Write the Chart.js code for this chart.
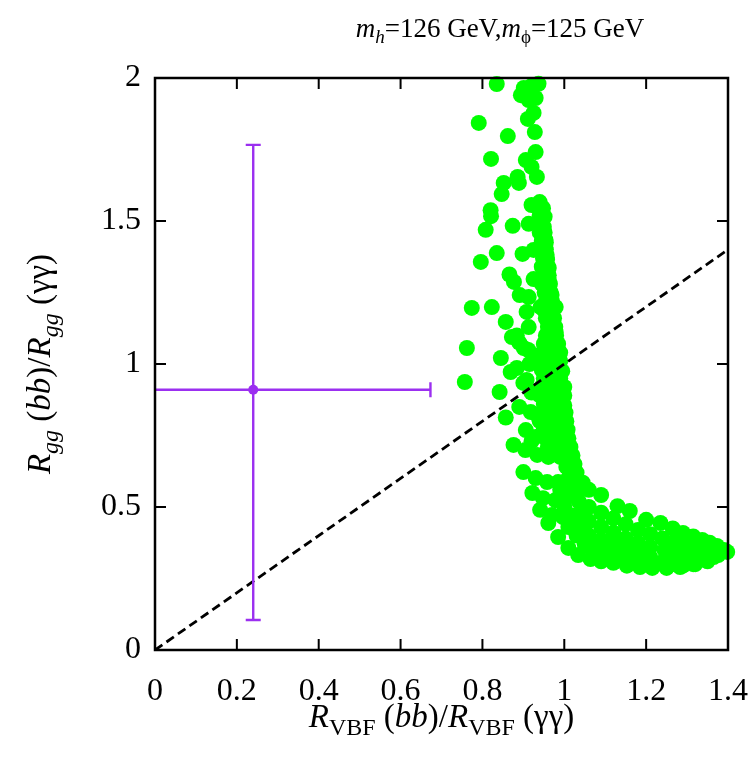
<!DOCTYPE html>
<html>
<head>
<meta charset="utf-8">
<script src="https://cdn.jsdelivr.net/npm/chart.js@4.4.1/dist/chart.umd.min.js"></script>
<style>
  html, body { margin: 0; padding: 0; background: #fff; }
  #wrap { width: 755px; height: 760px; }
</style>
</head>
<body>
<div id="wrap"><canvas id="c" width="755" height="760"></canvas></div>
<script>
// Axis ranges and tick labels
const xTicks = [0, 0.2, 0.4, 0.6, 0.8, 1.0, 1.2, 1.4];
const yTicks = [0, 0.5, 1.0, 1.5, 2.0];
const xRange = [0, 1.4];
const yRange = [0, 2];

// Reference line R_VBF ratio = R_gg ratio
const diagX = [0, 1.4];
const diagY = [0, 1.4];

// Measured point with its uncertainties
const measX = 0.24, measY = 0.91;
const measXLow = -0.19, measXHigh = 0.673;
const measYLow = 0.105, measYHigh = 1.766;

// Scan points (x = R_VBF(bb)/R_VBF(γγ), y = R_gg(bb)/R_gg(γγ))
const upperScan = [
  [0.835,1.979],[0.901,1.965],[0.920,1.972],[0.937,1.980],[0.894,1.940],[0.913,1.923],[0.930,1.930],
  [0.791,1.843],[0.862,1.797],[0.925,1.878],[0.911,1.857],[0.928,1.811],
  [0.821,1.717],[0.930,1.741],[0.906,1.713],[0.920,1.689],[0.933,1.654],[0.886,1.654],[0.889,1.633],
  [0.852,1.633],[0.847,1.594],[0.920,1.556],[0.940,1.566],[0.820,1.538],
  [0.821,1.517],[0.808,1.469],[0.874,1.483],[0.913,1.490],[0.942,1.528],[0.950,1.479],[0.954,1.434]
];
const midScan = [
  [0.835,1.388],[0.796,1.357],[0.898,1.385],[0.925,1.399],[0.957,1.381],[0.866,1.313],[0.877,1.287],
  [0.925,1.297],[0.962,1.336],[0.962,1.294],[0.891,1.241],[0.913,1.234],[0.969,1.241],[0.774,1.196],
  [0.823,1.199],[0.857,1.147],[0.908,1.182],[0.942,1.199],[0.979,1.199],[0.884,1.100],[0.913,1.129],
  [0.962,1.143],[0.979,1.112]
];
const columnScan = [
  [0.935,1.55],[0.948,1.545],[0.940,1.52],[0.952,1.515],[0.945,1.49],[0.940,1.46],[0.952,1.46],
  [0.945,1.43],[0.955,1.425],[0.940,1.40],[0.955,1.40],[0.948,1.37],[0.958,1.365],[0.945,1.34],
  [0.960,1.34],[0.950,1.31],[0.962,1.31],[0.945,1.28],[0.965,1.28],[0.952,1.25],[0.967,1.25],
  [0.955,1.22],[0.970,1.22],[0.950,1.19],[0.972,1.19],[0.955,1.16],[0.975,1.16],[0.960,1.13],
  [0.978,1.13],[0.955,1.10],[0.980,1.10],
  [0.950,1.07],[0.970,1.07],[0.985,1.07],[0.955,1.04],[0.975,1.04],[0.990,1.04],[0.950,1.01],
  [0.970,1.01],[0.990,1.01],[0.945,0.98],[0.965,0.98],[0.985,0.98],[0.995,0.975],[0.950,0.95],
  [0.970,0.95],[0.990,0.95],[0.945,0.92],[0.965,0.92],[0.985,0.92],[1.000,0.92],[0.940,0.89],
  [0.960,0.89],[0.980,0.89],[1.000,0.89],[0.950,0.86],[0.970,0.86],[0.990,0.86],[1.000,0.855],
  [0.945,0.83],[0.965,0.83],[0.985,0.83],[1.003,0.83],[0.940,0.80],[0.960,0.80],[0.980,0.80],
  [1.005,0.80],[0.950,0.77],[0.970,0.77],[0.990,0.77],[1.008,0.77],[0.955,0.74],[0.975,0.74],
  [0.995,0.74],[1.010,0.74],[0.960,0.71],[0.980,0.71],[1.000,0.71],[1.015,0.71],[1.020,0.68],
  [1.005,0.64],[1.025,0.65],[1.020,0.62],[1.030,0.62],[1.030,0.585],[0.990,0.56],[1.020,0.56],[1.040,0.565]
];
const strandScan = [
  [0.762,1.056],[0.757,0.937],[0.845,1.021],[0.842,0.902],[0.872,1.094],[0.901,1.056],[0.869,0.972],
  [0.884,0.986],[0.908,0.944],[0.937,1.031],[0.857,0.813],[0.906,0.769],[0.930,0.745],[0.918,0.832],
  [0.937,0.815],[0.912,1.049],[0.900,0.934],[0.890,1.075],[0.915,1.000],[0.920,0.900],[0.890,0.850],
  [0.920,0.730]
];
const lowerScan = [
  [0.876,0.717],[0.905,0.699],[0.934,0.682],[0.961,0.675],[0.990,0.675],[1.014,0.682],
  [0.900,0.622],[0.930,0.601],[0.958,0.587],[0.985,0.587],[1.010,0.601],
  [0.922,0.549],[0.948,0.531],[0.978,0.524],[1.002,0.531],
  [0.941,0.490],[0.970,0.472],[0.997,0.465],
  [0.961,0.444],[0.985,0.395],[1.010,0.357],[1.034,0.332],[1.064,0.318],[1.090,0.310],
  [1.000,0.500],[1.020,0.470],[1.010,0.430],[1.030,0.400],[1.035,0.520],[1.040,0.480],
  [1.045,0.440],[1.050,0.370],[1.030,0.550],[1.045,0.585],[1.060,0.560]
];
const tailScan = [
  [1.090,0.542],[1.130,0.503],[1.160,0.486],[1.200,0.455],[1.235,0.444],[1.265,0.425],[1.290,0.409],
  [1.315,0.397],[1.337,0.385],[1.355,0.375],[1.373,0.364],[1.390,0.350],
  [1.060,0.500],[1.090,0.480],[1.120,0.460],[1.150,0.440],[1.180,0.420],[1.210,0.405],[1.240,0.390],
  [1.270,0.380],[1.300,0.365],[1.330,0.355],[1.360,0.345],[1.398,0.343],
  [1.060,0.450],[1.090,0.430],[1.120,0.410],[1.150,0.390],[1.180,0.375],[1.210,0.360],[1.245,0.350],
  [1.275,0.340],[1.305,0.335],[1.335,0.330],[1.365,0.325],
  [1.060,0.400],[1.090,0.385],[1.120,0.370],[1.150,0.350],[1.180,0.335],[1.210,0.325],[1.245,0.315],
  [1.280,0.310],[1.310,0.310],[1.345,0.315],[1.376,0.332],
  [1.064,0.360],[1.090,0.345],[1.120,0.330],[1.150,0.315],[1.185,0.305],[1.220,0.300],[1.255,0.295],
  [1.290,0.295],[1.320,0.300],
  [1.120,0.305],[1.153,0.295],[1.185,0.290],[1.215,0.287],[1.250,0.287],[1.283,0.290],[1.315,0.300],
  [1.350,0.310]
];

const scanPoints = [...upperScan, ...midScan, ...columnScan, ...strandScan, ...lowerScan, ...tailScan]
  .map(([x, y]) => ({ x, y }));

const GREEN = '#00ff00';
const PURPLE = '#9b2ff0';
const SERIF = '"Liberation Serif", "DejaVu Serif", serif';

// Text with italic parts and subscripts
function drawRich(ctx, parts, x, y, size) {
  const fontFor = p => `${p.it ? 'italic ' : ''}${p.sub ? Math.round(size * 0.72) : size}px ${SERIF}`;
  let w = 0;
  parts.forEach(p => { ctx.font = fontFor(p); p.w = ctx.measureText(p.t).width; w += p.w; });
  let cx = x - w / 2;
  parts.forEach(p => {
    ctx.font = fontFor(p);
    ctx.fillText(p.t, cx, y + (p.sub ? size * 0.24 : 0));
    cx += p.w;
  });
}

const titleParts = [
  { t: 'm', it: 1 }, { t: 'h', it: 1, sub: 1 }, { t: '=126 GeV,' },
  { t: 'm', it: 1 }, { t: 'ϕ', sub: 1 }, { t: '=125 GeV' }
];
const xTitleParts = [
  { t: 'R', it: 1 }, { t: 'VBF', sub: 1 }, { t: ' (' }, { t: 'bb', it: 1 }, { t: ')/' },
  { t: 'R', it: 1 }, { t: 'VBF', sub: 1 }, { t: ' (γγ)' }
];
const yTitleParts = [
  { t: 'R', it: 1 }, { t: 'gg', it: 1, sub: 1 }, { t: ' (' }, { t: 'bb', it: 1 }, { t: ')/' },
  { t: 'R', it: 1 }, { t: 'gg', it: 1, sub: 1 }, { t: ' (γγ)' }
];

const decorPlugin = {
  id: 'decor',
  afterDatasetsDraw(chart) {
    const { ctx, chartArea: a, scales: { x, y } } = chart;

    // error bars of the measured point
    ctx.save();
    ctx.beginPath();
    ctx.rect(a.left, a.top, a.right - a.left, a.bottom - a.top);
    ctx.clip();
    ctx.strokeStyle = PURPLE;
    ctx.lineWidth = 2.4;
    const cx = x.getPixelForValue(measX), cy = y.getPixelForValue(measY);
    const xl = x.getPixelForValue(measXLow), xh = x.getPixelForValue(measXHigh);
    const yl = y.getPixelForValue(measYLow), yh = y.getPixelForValue(measYHigh);
    const cap = 7.5;
    ctx.beginPath();
    ctx.moveTo(xl, cy); ctx.lineTo(xh, cy);
    ctx.moveTo(xl, cy - cap); ctx.lineTo(xl, cy + cap);
    ctx.moveTo(xh, cy - cap); ctx.lineTo(xh, cy + cap);
    ctx.moveTo(cx, yl); ctx.lineTo(cx, yh);
    ctx.moveTo(cx - cap, yl); ctx.lineTo(cx + cap, yl);
    ctx.moveTo(cx - cap, yh); ctx.lineTo(cx + cap, yh);
    ctx.stroke();
    ctx.restore();

    // frame with inward ticks on all four sides
    ctx.save();
    ctx.strokeStyle = '#000';
    ctx.lineWidth = 2.5;
    ctx.strokeRect(a.left, a.top, a.right - a.left, a.bottom - a.top);
    ctx.lineWidth = 2;
    const L = 11;
    ctx.beginPath();
    x.ticks.forEach(t => {
      const px = x.getPixelForValue(t.value);
      ctx.moveTo(px, a.bottom); ctx.lineTo(px, a.bottom - L);
      ctx.moveTo(px, a.top); ctx.lineTo(px, a.top + L);
    });
    y.ticks.forEach(t => {
      const py = y.getPixelForValue(t.value);
      ctx.moveTo(a.left, py); ctx.lineTo(a.left + L, py);
      ctx.moveTo(a.right, py); ctx.lineTo(a.right - L, py);
    });
    ctx.stroke();
    ctx.restore();
  },
  afterDraw(chart) {
    const { ctx, chartArea: a } = chart;
    ctx.save();
    ctx.fillStyle = '#000';
    ctx.textBaseline = 'alphabetic';
    ctx.textAlign = 'left';
    drawRich(ctx, titleParts, 500, 37, 27);
    drawRich(ctx, xTitleParts, (a.left + a.right) / 2, 727, 33);
    ctx.translate(50, (a.top + a.bottom) / 2);
    ctx.rotate(-Math.PI / 2);
    drawRich(ctx, yTitleParts, 0, 0, 33);
    ctx.restore();
  }
};

const fmt = v => String(Math.round(v * 10) / 10);

new Chart(document.getElementById('c'), {
  type: 'scatter',
  data: {
    datasets: [
      {
        type: 'line',
        data: diagX.map((v, i) => ({ x: v, y: diagY[i] })),
        borderColor: '#000',
        borderWidth: 2.8,
        borderDash: [9, 5],
        pointRadius: 0,
        fill: false,
        order: 0
      },
      {
        data: [{ x: measX, y: measY }],
        backgroundColor: PURPLE,
        borderWidth: 0,
        pointRadius: 5,
        order: 1
      },
      {
        data: scanPoints,
        backgroundColor: GREEN,
        borderWidth: 0,
        pointRadius: 8,
        clip: false,
        order: 2
      }
    ]
  },
  options: {
    responsive: false,
    animation: false,
    devicePixelRatio: 1,
    layout: { padding: { top: 78, right: 27, left: 0, bottom: 0 } },
    plugins: { legend: { display: false }, tooltip: { enabled: false } },
    scales: {
      x: {
        type: 'linear',
        min: xRange[0], max: xRange[1],
        afterBuildTicks: s => { s.ticks = xTicks.map(v => ({ value: v })); },
        afterFit: s => { s.height = 110; s.paddingLeft = 0; s.paddingRight = 0; },
        grid: { display: false, drawTicks: false },
        border: { display: false },
        ticks: {
          callback: v => fmt(v),
          color: '#000',
          padding: 22,
          maxRotation: 0,
          autoSkip: false,
          font: { family: SERIF, size: 32 }
        }
      },
      y: {
        type: 'linear',
        min: yRange[0], max: yRange[1],
        afterBuildTicks: s => { s.ticks = yTicks.map(v => ({ value: v })); },
        afterFit: s => { s.width = 155; s.paddingTop = 0; s.paddingBottom = 0; },
        grid: { display: false, drawTicks: false },
        border: { display: false },
        ticks: {
          callback: v => fmt(v),
          color: '#000',
          padding: 14,
          autoSkip: false,
          font: { family: SERIF, size: 32 }
        }
      }
    }
  },
  plugins: [decorPlugin]
});
</script>
</body>
</html>
